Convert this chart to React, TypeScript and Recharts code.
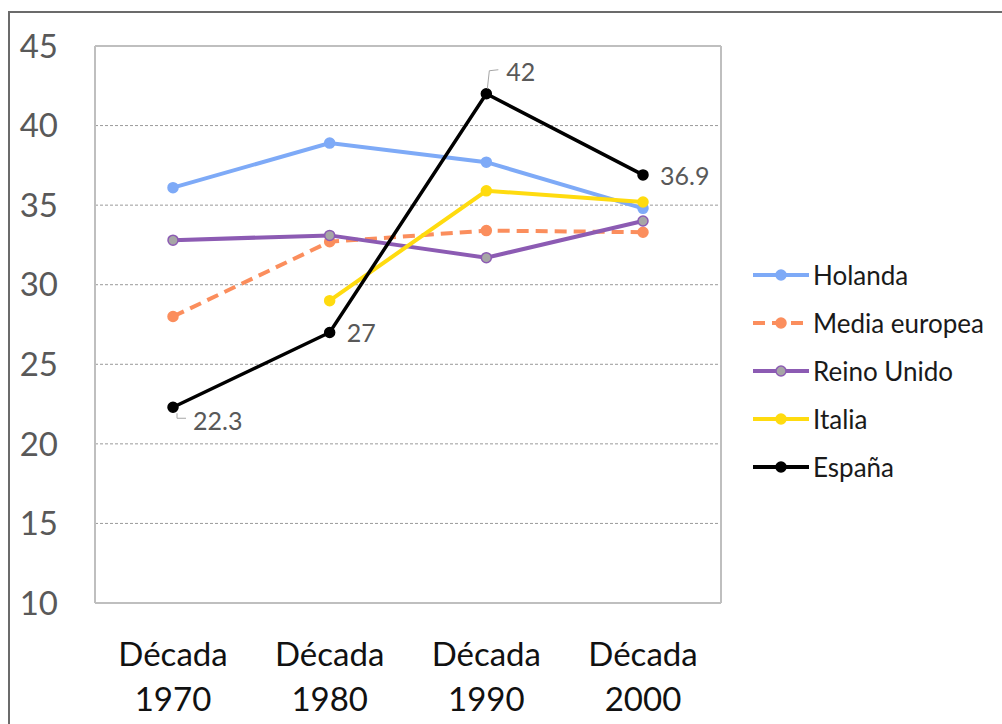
import React from 'react';
import { LineChart, Line, XAxis, YAxis, CartesianGrid, Legend, LabelList } from 'recharts';

const categories = ['1970', '1980', '1990', '2000'];
const holanda = [36.1, 38.9, 37.7, 34.8];
const mediaEuropea = [28.0, 32.7, 33.4, 33.3];
const reinoUnido = [32.8, 33.1, 31.7, 34.0];
const italia = [null, 29.0, 35.9, 35.2];
const espana = [22.3, 27, 42, 36.9];
const yTicks = [10, 15, 20, 25, 30, 35, 40, 45];

const data = categories.map((c, i) => ({
  decade: c,
  Holanda: holanda[i],
  'Media europea': mediaEuropea[i],
  'Reino Unido': reinoUnido[i],
  Italia: italia[i],
  'España': espana[i],
}));

const FONT = 'Lato, "Open Sans", sans-serif';

const series = [
  { key: 'Holanda', color: '#7EAAF7', dot: '#7EAAF7' },
  { key: 'Media europea', color: '#FB8E5D', dot: '#FB8E5D', dash: '12 7' },
  { key: 'Reino Unido', color: '#8C5BB3', dot: '#A6A6A6' },
  { key: 'Italia', color: '#FFDB0F', dot: '#FFDB0F' },
  { key: 'España', color: '#000000', dot: '#000000' },
];

const DecadeTick = (props: any) => {
  const { x, y, payload } = props;
  return (
    <text x={x} textAnchor="middle" fontFamily={FONT} fontSize={33} fill="#111">
      <tspan x={x} y={y + 61}>Década</tspan>
      <tspan x={x} y={y + 106}>{payload.value}</tspan>
    </text>
  );
};

// leader-line placement for the España labels, by point index
const EspanaLabel = (props: any) => {
  const { x, y, value, index } = props;
  const style = { fontFamily: FONT, fontSize: 25, fill: '#595959' };
  if (index === 0) {
    return (
      <g>
        <polyline points={`${x + 4},${y + 6} ${x + 4},${y + 11} ${x + 13},${y + 11}`} fill="none" stroke="#a6a6a6" strokeWidth={1} />
        <text x={x + 20} y={y + 23} {...style}>{value}</text>
      </g>
    );
  }
  if (index === 2) {
    return (
      <g>
        <polyline points={`${x + 1},${y - 5} ${x + 3},${y - 23} ${x + 12},${y - 24}`} fill="none" stroke="#a6a6a6" strokeWidth={1} />
        <text x={x + 20} y={y - 13} {...style}>{value}</text>
      </g>
    );
  }
  return <text x={x + 17} y={y + 10} {...style}>{value}</text>;
};

const LegendContent = () => (
  <div style={{ width: 240, fontFamily: FONT }}>
    {series.map((s) => (
      <div key={s.key} style={{ display: 'flex', alignItems: 'center', height: 48 }}>
        <svg width={60} height={20} style={{ flex: 'none' }}>
          <line x1={0} y1={10} x2={56} y2={10} stroke={s.color} strokeWidth={4} strokeDasharray={s.dash} />
          <circle cx={28} cy={10} r={5} fill={s.dot} stroke={s.color} strokeWidth={1.5} />
        </svg>
        <span style={{ fontSize: 26, color: '#1a1a1a', whiteSpace: 'nowrap' }}>{s.key}</span>
      </div>
    ))}
  </div>
);

export default function App() {
  return (
    <div style={{ position: 'absolute', left: 0, top: 0, width: 1002, height: 724, background: '#fff', overflow: 'hidden' }}>
      <div style={{ position: 'absolute', left: 8, top: 11, width: 1100, height: 800, borderLeft: '2px solid #6b6b6b', borderTop: '2px solid #6b6b6b' }} />
      <div style={{ position: 'absolute', left: 0, top: 0 }}>
        <LineChart width={1002} height={724} data={data} margin={{ top: 46, right: 41, bottom: 0, left: 0 }}>
          <CartesianGrid vertical={false} stroke="#9a9a9a" strokeDasharray="3 2" />
          {/* plot area frame */}
          <CartesianGrid
            stroke="#bfbfbf"
            strokeWidth={2}
            horizontalCoordinatesGenerator={({ offset }: any) => [offset.top, offset.top + offset.height]}
            verticalCoordinatesGenerator={({ offset }: any) => [offset.left, offset.left + offset.width]}
          />
          <XAxis
            dataKey="decade"
            height={121}
            padding={{ left: 78, right: 78 }}
            tick={<DecadeTick />}
            tickLine={false}
            tickSize={0}
            axisLine={{ stroke: '#bfbfbf', strokeWidth: 2 }}
            interval={0}
          />
          <YAxis
            domain={[10, 45]}
            ticks={yTicks}
            width={95}
            tickLine={false}
            tickSize={0}
            tickMargin={37}
            axisLine={{ stroke: '#bfbfbf', strokeWidth: 2 }}
            tick={{ fontSize: 33, fill: '#595959', fontFamily: FONT }}
          />
          <Legend
            layout="vertical"
            align="right"
            verticalAlign="middle"
            content={<LegendContent />}
            wrapperStyle={{ left: 753, top: 251 }}
          />
          {series.map((s) => (
            <Line
              key={s.key}
              dataKey={s.key}
              stroke={s.color}
              strokeWidth={s.key === 'España' ? 3.5 : 4}
              strokeDasharray={s.dash}
              dot={{ r: 5, fill: s.dot, stroke: s.color, strokeWidth: 1.5, strokeDasharray: '' }}
              activeDot={false}
              isAnimationActive={false}
            >
              {s.key === 'España' && <LabelList dataKey="España" content={<EspanaLabel />} />}
            </Line>
          ))}
        </LineChart>
      </div>
    </div>
  );
}
